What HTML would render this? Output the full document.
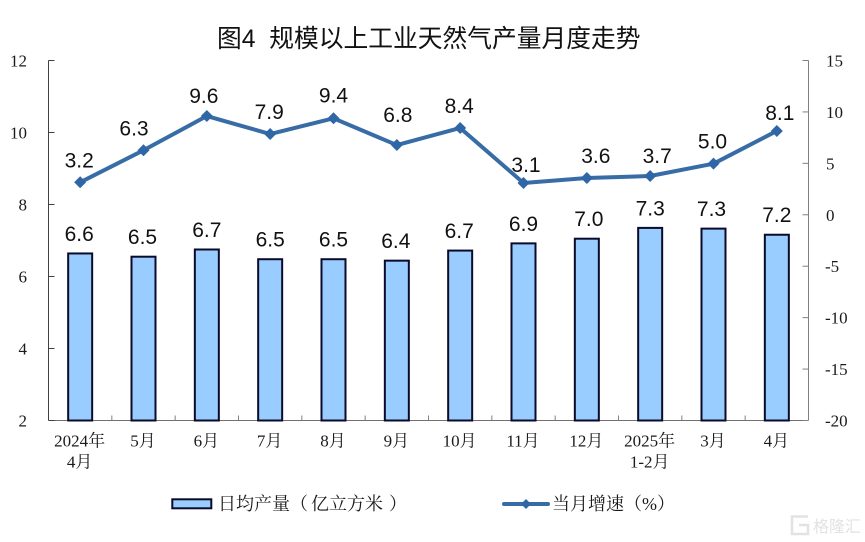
<!DOCTYPE html>
<html lang="zh">
<head>
<meta charset="utf-8">
<title>图4 规模以上工业天然气产量月度走势</title>
<style>
html,body{margin:0;padding:0;background:#fff;}
body{width:865px;height:542px;overflow:hidden;}
svg{display:block;}
text{white-space:pre;}
.tick{font-family:"Liberation Serif","Noto Serif CJK SC",serif;font-size:17px;fill:#1a1a1a;}
.val{font-family:"Liberation Sans",Arial,sans-serif;font-size:21px;fill:#111;text-anchor:middle;}
.cat{font-family:"Liberation Serif","Noto Serif CJK SC",serif;font-size:17px;fill:#1a1a1a;text-anchor:middle;}
.leg{font-family:"Liberation Serif","Noto Serif CJK SC",serif;font-size:18px;fill:#1a1a1a;}
</style>
</head>
<body>
<svg id="chart" width="865" height="542" viewBox="0 0 865 542" xmlns="http://www.w3.org/2000/svg">
  <rect x="0" y="0" width="865" height="542" fill="#fff"/>
  <text x="217" y="47" font-family="'Liberation Sans','Noto Sans CJK SC',sans-serif" font-size="24.75" fill="#111">图4  规模以上工业天然气产量月度走势</text>
  <g id="axes"></g>
  <g id="bars"></g>
  <g id="line"></g>
  <g id="labels"></g>
  <g>
    <g>
      <rect x="172.3" y="499.3" width="39" height="9" fill="#99ccff" stroke="#0a0a2a" stroke-width="2"/>
      <text class="leg" x="218" y="510">日均产量（<tspan dx="3">亿立方米</tspan><tspan dx="6">）</tspan></text>
    </g>
    <g>
      <line x1="504" y1="504" x2="548" y2="504" stroke="#376ca6" stroke-width="4" stroke-linecap="round"/>
      <polygon points="526,499 531,504 526,509 521,504" fill="#2f66a6"/>
      <text class="leg" x="552" y="510">当月增速（%）</text>
    </g>
  </g>
  <g opacity="0.9">
    <path d="M808 516.5H792V534H808V525H799" fill="none" stroke="#dfdfdf" stroke-width="2.5"/>
    <text x="813" y="532" font-family="'Liberation Sans','Noto Sans CJK SC',sans-serif" font-size="16" fill="#dfdfdf">格隆汇</text>
  </g>
</svg>
<script>
const categories = [["2024年","4月"],["5月"],["6月"],["7月"],["8月"],["9月"],["10月"],["11月"],["12月"],["2025年","1-2月"],["3月"],["4月"]];
const productionValues = [6.64,6.55,6.75,6.48,6.48,6.44,6.72,6.92,7.05,7.35,7.33,7.16];
const productionLabels = ["6.6","6.5","6.7","6.5","6.5","6.4","6.7","6.9","7.0","7.3","7.3","7.2"];
const growthValues = [3.16,6.27,9.6,7.85,9.38,6.78,8.44,3.09,3.58,3.77,4.97,8.15];
const growthLabels = ["3.2","6.3","9.6","7.9","9.4","6.8","8.4","3.1","3.6","3.7","5.0","8.1"];
const leftTicks = [2,4,6,8,10,12];
const rightTicks = [-20,-15,-10,-5,0,5,10,15];

const NS = "http://www.w3.org/2000/svg";
const plot = {left:48.5, right:808.5, top:60.5, bottom:420.5};
const leftDomain = [2,12];
const rightDomain = [-20,15];
function xBand(i){ return plot.left + (plot.right-plot.left)/categories.length*i; }
function xCenter(i){ return plot.left + (plot.right-plot.left)/categories.length*(i+0.5); }
function yLeft(v){ return plot.bottom - (v-leftDomain[0])/(leftDomain[1]-leftDomain[0])*(plot.bottom-plot.top); }
function yRight(v){ return plot.bottom - (v-rightDomain[0])/(rightDomain[1]-rightDomain[0])*(plot.bottom-plot.top); }
function make(tag, parent, attrs){
  const el = document.createElementNS(NS, tag);
  for (const k in attrs) el.setAttribute(k, attrs[k]);
  parent.appendChild(el);
  return el;
}
const barsG = document.getElementById("bars");
const axesG = document.getElementById("axes");
const lineG = document.getElementById("line");
const labelsG = document.getElementById("labels");

productionValues.forEach(function(v,i){
  const top = yLeft(v);
  const bar = make("rect", barsG, {x:xCenter(i)-12, y:top, width:24, height:plot.bottom-top, fill:"#99ccff", stroke:"#0a0a2a", "stroke-width":2});
  
  
});

const leftAxis = make("line", axesG, {x1:plot.left, y1:plot.top, x2:plot.left, y2:plot.bottom, stroke:"#404040", "stroke-width":1});


const rightAxis = make("line", axesG, {x1:plot.right, y1:plot.top, x2:plot.right, y2:plot.bottom, stroke:"#808080", "stroke-width":1});


const xAxis = make("line", axesG, {x1:plot.left, y1:plot.bottom, x2:plot.right, y2:plot.bottom, stroke:"#707070", "stroke-width":1});



leftTicks.forEach(function(t){
  const y = yLeft(t);
  const mark = make("line", axesG, {x1:plot.left, y1:y, x2:plot.left+6, y2:y, stroke:"#404040", "stroke-width":1});
  
  
  const label = make("text", axesG, {class:"tick", x:27, y:y+6, "text-anchor":"end"});
  
  
  label.textContent = t;
});
rightTicks.forEach(function(t){
  const y = yRight(t);
  const mark = make("line", axesG, {x1:plot.right-6, y1:y, x2:plot.right, y2:y, stroke:"#808080", "stroke-width":1});
  
  
  const label = make("text", axesG, {class:"tick", x:t<0?825:826, y:y+6});
  
  
  label.textContent = t;
});
categories.forEach(function(lines,i){
  if (i>0){
    const mark = make("line", axesG, {x1:xBand(i), y1:plot.bottom-5, x2:xBand(i), y2:plot.bottom, stroke:"#808080", "stroke-width":1});
    
    
  }
  lines.forEach(function(txt,j){
    const label = make("text", axesG, {class:"cat", x:xCenter(i)-0.5, y:446.5+j*21});
    
    
    label.textContent = txt;
  });
});

const pathD = growthValues.map(function(v,i){ return (i?"L":"M")+xCenter(i)+" "+yRight(v); }).join(" ");
const growthPath = make("path", lineG, {d:pathD, fill:"none", stroke:"#376ca6", "stroke-width":4, "stroke-linejoin":"round"});


growthValues.forEach(function(v,i){
  const x = xCenter(i), y = yRight(v), r = 6;
  const pt = make("polygon", lineG, {points:[x,y-r,x+r,y,x,y+r,x-r,y].join(" "), fill:"#2f66a6"});
  
  
});

/* hand-placed label nudges relative to each mark, keyed by category index */
const productionNudgeX = {0:-1,1:-1,5:-1,6:-1,8:2,10:-2};
const growthNudgeX = {0:-1,1:-9.5,2:-3,3:-1,5:1,6:-1,7:2.5,8:9,9:7,10:-1,11:3};
const growthNudgeY = {2:2,4:-1,5:-8,7:4,9:2,11:4};
productionLabels.forEach(function(txt,i){
  const label = make("text", labelsG, {class:"val", x:xCenter(i)+(productionNudgeX[i]||0), y:yLeft(productionValues[i])-12.5});
  
  
  label.textContent = txt;
});
growthLabels.forEach(function(txt,i){
  const label = make("text", labelsG, {class:"val", x:xCenter(i)+(growthNudgeX[i]||0), y:yRight(growthValues[i])-22+7+(growthNudgeY[i]||0)});
  
  
  label.textContent = txt;
});
</script>
</body>
</html>
